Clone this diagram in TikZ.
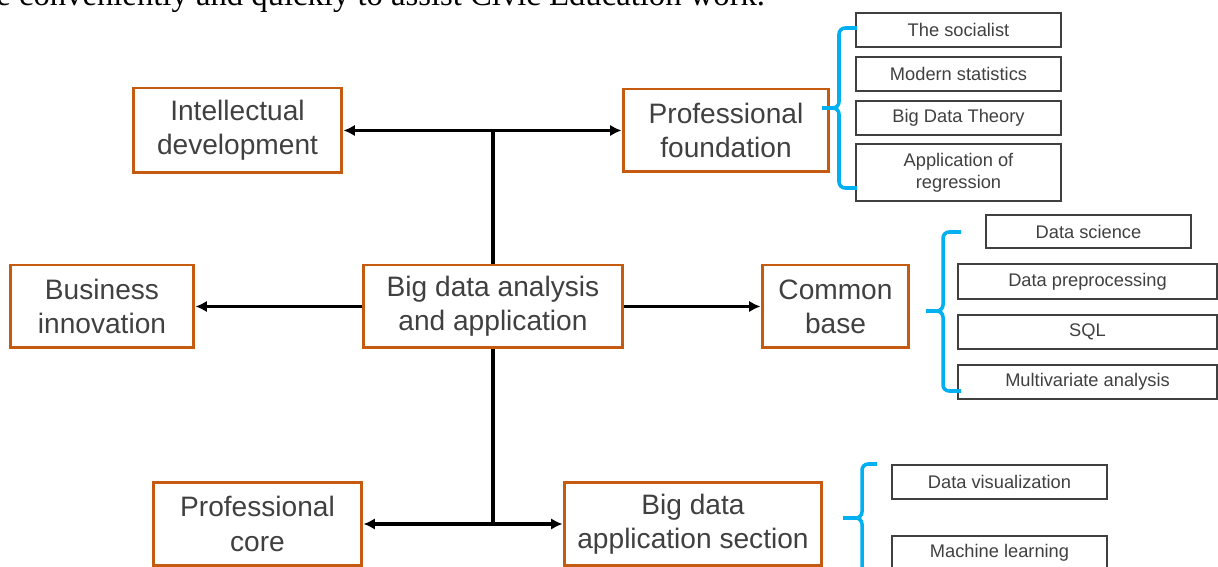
\documentclass[tikz,border=0pt]{standalone}
\usepackage{fontspec}
\newfontfamily\arialfont{Liberation Sans}
\newfontfamily\timesfont{Liberation Serif}
\usetikzlibrary{arrows.meta}
\definecolor{boxorange}{HTML}{C55A11}
\definecolor{bracecyan}{HTML}{00B0F0}
\definecolor{textgray}{HTML}{404040}

\begin{document}
\begin{tikzpicture}[x=0.02cm, y=-0.02cm]
        \tikzset{mainbox/.style={draw=boxorange, line width=1.7pt, text=textgray, align=center, inner sep=0pt, font=\arialfont\fontsize{16}{19.5}\selectfont},
                 subbox/.style={draw=textgray, line width=0.8pt, text=textgray, align=center, inner sep=0pt, minimum width=4.1cm, minimum height=0.68cm, font=\arialfont\fontsize{10.4}{12.5}\selectfont},
                 link/.style={line width=1.9pt, black},
                 arrow/.style={link, -{Latex[length=6.5pt, width=6.5pt]}},
                 brace/.style={bracecyan, line width=2pt, rounded corners=3.5pt}}
        \clip (0,0) rectangle (1218,567);
        % text of the page above the figure
        \node[anchor=base west, inner sep=0pt, font=\timesfont\fontsize{18.6}{20}\selectfont] (pagetext) at (-4,6) {e conveniently and quickly to assist Civic Education work.};
        % main boxes
        \node[mainbox, minimum width=4.18cm, minimum height=1.7cm] (intel) at (237.5,130.5) {Intellectual\\development};
        \node[mainbox, minimum width=4.12cm, minimum height=1.66cm] (profound) at (726,130.5) {Professional\\foundation};
        \node[mainbox, minimum width=3.68cm, minimum height=1.66cm] (business) at (102,306.5) {Business\\innovation};
        \node[mainbox, minimum width=5.2cm, minimum height=1.66cm] (bigdata) at (493,306.5) {Big data analysis\\and application};
        \node[mainbox, minimum width=2.94cm, minimum height=1.66cm] (common) at (835.5,306.5) {Common\\base};
        \node[mainbox, minimum width=4.18cm, minimum height=1.68cm] (procore) at (257.5,524) {Professional\\core};
        \node[mainbox, minimum width=5.16cm, minimum height=1.68cm] (appsec) at (693,524) {Big data\\application section};
        % connectors
        \coordinate (jtop) at (bigdata.north |- intel.east);
        \coordinate (jbot) at (bigdata.south |- procore.east);
        \draw[link] (bigdata.north) -- (jtop);
        \draw[arrow] (jtop) -- (intel.east);
        \draw[arrow] (jtop) -- (profound.west);
        \draw[arrow] (bigdata.west) -- (business.east);
        \draw[arrow] (bigdata.east) -- (common.west);
        \draw[link] (bigdata.south) -- (jbot);
        \draw[arrow] (jbot) -- (procore.east);
        \draw[arrow] (jbot) -- (appsec.west);
        % sub items
        \node[subbox] (socialist) at (958.5,30) {The socialist};
        \node[subbox] (modstat) at (958.5,74) {Modern statistics};
        \node[subbox] (bdtheory) at (958.5,118) {Big Data Theory};
        \node[subbox, minimum height=1.14cm] (regression) at (958.5,172.5) {Application of\\regression};
        \node[subbox, minimum height=0.66cm] (datasci) at (1088.5,231.5) {Data science};
        \node[subbox, minimum width=5.18cm, minimum height=0.7cm] (preproc) at (1087.5,281.5) {Data preprocessing};
        \node[subbox, minimum width=5.18cm] (sql) at (1087.5,332) {SQL};
        \node[subbox, minimum width=5.18cm] (multivar) at (1087.5,382) {Multivariate analysis};
        \node[subbox, minimum width=4.3cm] (dataviz) at (999.5,482) {Data visualization};
        \node[subbox, minimum width=4.3cm] (mlearn) at (999.5,553) {Machine learning};
        % braces
        \draw[brace] (857,28) -- (839,28) -- (839,108) -- (822,108);
        \draw[brace] (822,108) -- (839,108) -- (839,188) -- (857,188);
        \draw[brace] (961,232) -- (943,232) -- (943,311) -- (926,311);
        \draw[brace] (926,311) -- (943,311) -- (943,391) -- (961,391);
        \draw[brace] (877,464) -- (862,464) -- (862,518) -- (843,518);
        \draw[brace] (843,518) -- (862,518) -- (862,580) -- (877,580);
    \end{tikzpicture}
\end{document}
